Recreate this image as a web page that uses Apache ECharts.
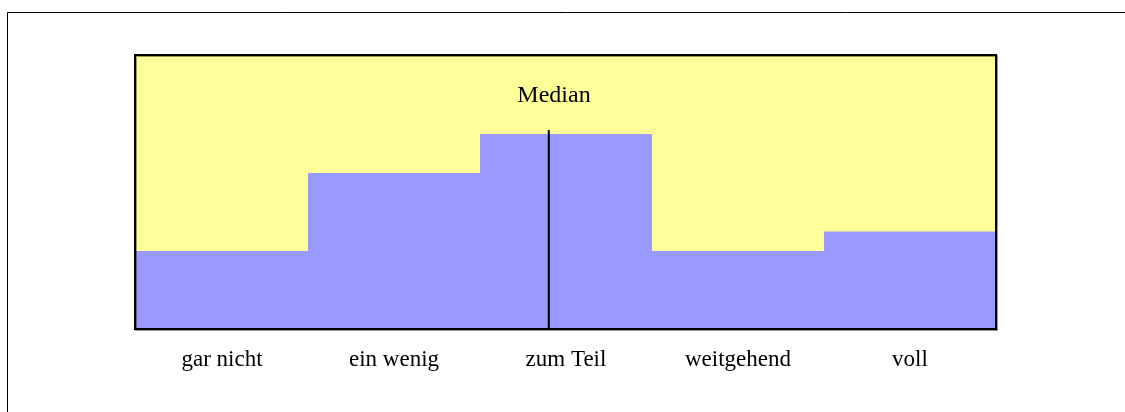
<!DOCTYPE html>
<html>
<head>
<meta charset="utf-8">
<script src="https://cdn.jsdelivr.net/npm/echarts@6/dist/echarts.min.js"></script>
<style>html,body{margin:0;padding:0;background:#fff;}#c{width:1125px;height:412px;}</style>
</head>
<body>
<div id="c"></div>
<script>
const categories = ['gar nicht', 'ein wenig', 'zum Teil', 'weitgehend', 'voll'];
const counts = [4, 8, 10, 4, 5];
const medianPos = 2.4;       // position of median along the category span (0..5)
const medianTop = 10.2;      // top of median line in value units
const yMax = 14;

const chart = echarts.init(document.getElementById('c'));
const GL = 136, GT = 56, GW = 860, GH = 273;
chart.setOption({
  animation: false,
  grid: { left: GL, top: GT, width: GW, height: GH, show: true, backgroundColor: '#FFFF99', borderWidth: 0 },
  xAxis: [
    { type: 'category', data: categories, axisTick: { show: false }, axisLine: { show: false },
      axisLabel: { color: '#000', fontFamily: 'Liberation Serif', fontSize: 23, margin: 19 } },
    { type: 'value', min: 0, max: 5, show: false, position: 'bottom' }
  ],
  yAxis: { type: 'value', min: 0, max: yMax, show: false, splitLine: { show: false } },
  series: [
    { type: 'bar', data: counts, barWidth: '100%', barCategoryGap: '0%', itemStyle: { color: '#9999FF' }, xAxisIndex: 0 },
    { type: 'line', xAxisIndex: 1, data: [[medianPos, 0], [medianPos, medianTop]], symbol: 'none',
      lineStyle: { color: '#000', width: 2 }, z: 5 }
  ],
  graphic: [
    { type: 'rect', shape: { x: 7.5, y: 12.5, width: 1300, height: 600 }, style: { fill: 'none', stroke: '#000', lineWidth: 1 }, z: 100 },
    { type: 'rect', shape: { x: GL - 1, y: GT - 1, width: GW + 1, height: GH + 1 }, style: { fill: 'none', stroke: '#000', lineWidth: 2, shadowColor: 'rgba(0,0,0,0.4)', shadowOffsetX: 1, shadowOffsetY: 1 }, z: 100 },
    { type: 'text', x: 554, y: 96, style: { text: 'Median', fill: '#000', font: '24px "Liberation Serif"', textAlign: 'center', textVerticalAlign: 'middle' }, z: 100 }
  ]
});
</script>
</body>
</html>
